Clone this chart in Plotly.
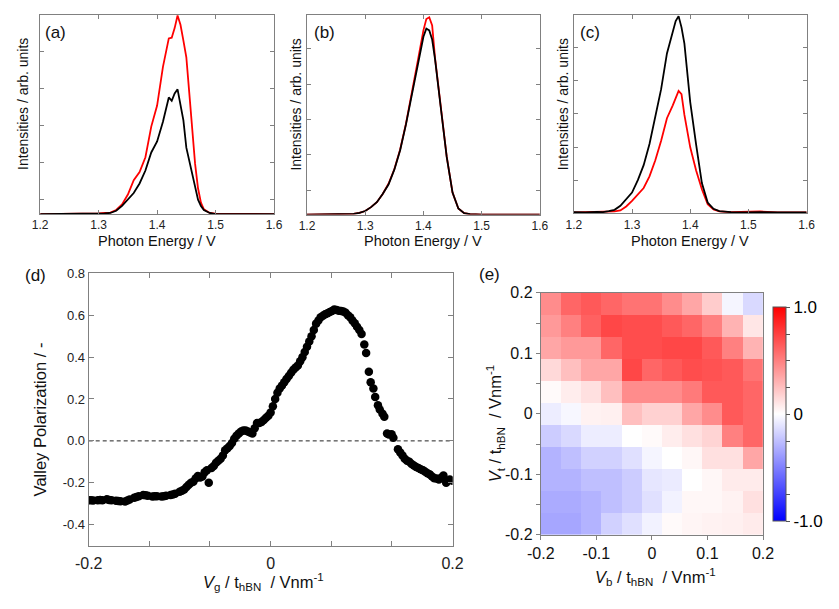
import numpy as np
import plotly.graph_objects as go

W, H = 839, 609

# ---------------- data ----------------
# (a)
E_a = [1.20, 1.25, 1.28, 1.30, 1.31, 1.32, 1.33, 1.34, 1.35, 1.36, 1.37, 1.38, 1.39, 1.40, 1.41, 1.42,
       1.425, 1.43, 1.435, 1.44, 1.445, 1.45, 1.455, 1.46, 1.465, 1.47, 1.475, 1.48, 1.49, 1.50, 1.55, 1.60]
red_a = [0.0, 0.0, 0.01, 0.02, 0.03, 0.04, 0.11, 0.26, 0.53, 0.92, 1.14, 1.54, 2.37, 2.94, 3.99, 4.76,
         4.78, 5.04, 5.38, 5.13, 4.70, 4.25, 3.29, 2.24, 1.36, 0.70, 0.31, 0.13, 0.03, 0.01, 0.0, 0.0]
black_a = [0.0, 0.0, 0.0, 0.01, 0.02, 0.03, 0.09, 0.22, 0.39, 0.57, 0.83, 1.18, 1.67, 1.97, 2.50, 3.16,
           3.07, 3.27, 3.38, 2.98, 2.54, 1.80, 1.45, 1.10, 0.75, 0.39, 0.22, 0.11, 0.03, 0.0, 0.0, 0.0]

# (b)
E_b = [1.20, 1.25, 1.28, 1.29, 1.30, 1.31, 1.32, 1.33, 1.34, 1.35, 1.36, 1.37, 1.38, 1.39, 1.40, 1.405,
       1.41, 1.415, 1.42, 1.43, 1.44, 1.45, 1.46, 1.47, 1.48, 1.50, 1.55, 1.60]
red_b = [0.0, 0.0, 0.02, 0.05, 0.10, 0.21, 0.35, 0.58, 0.87, 1.28, 1.84, 2.57, 3.40, 4.32, 5.21, 5.53,
         5.58, 5.35, 4.42, 3.02, 1.64, 0.62, 0.17, 0.04, 0.01, 0.0, 0.0, 0.0]
black_b = [0.0, 0.0, 0.02, 0.05, 0.10, 0.21, 0.35, 0.58, 0.85, 1.27, 1.82, 2.55, 3.38, 4.29, 5.03, 5.26,
           5.21, 4.95, 4.39, 3.00, 1.63, 0.62, 0.17, 0.04, 0.01, 0.0, 0.0, 0.0]

# (c)
E_c = [1.20, 1.22, 1.24, 1.25, 1.26, 1.27, 1.28, 1.29, 1.30, 1.31, 1.32, 1.33, 1.34, 1.35, 1.36, 1.37,
       1.375, 1.38, 1.385, 1.39, 1.40, 1.41, 1.42, 1.43, 1.44, 1.45, 1.47, 1.50, 1.52, 1.55, 1.58, 1.60]
black_c = [0.03, 0.02, 0.04, 0.03, 0.06, 0.10, 0.22, 0.42, 0.62, 1.00, 1.45, 2.09, 2.87, 3.75, 4.83, 5.52,
           5.81, 5.96, 5.62, 5.13, 3.36, 2.09, 0.91, 0.32, 0.13, 0.06, 0.03, 0.02, 0.03, 0.02, 0.03, 0.02]
red_c = [0.02, 0.03, 0.02, 0.03, 0.03, 0.05, 0.08, 0.20, 0.37, 0.57, 0.76, 1.11, 1.60, 2.19, 2.87, 3.26,
         3.46, 3.70, 3.60, 2.97, 1.99, 1.30, 0.72, 0.27, 0.11, 0.05, 0.03, 0.03, 0.05, 0.02, 0.03, 0.02]

# (d)
Vg = [-0.200, -0.195, -0.190, -0.185, -0.180, -0.175, -0.170, -0.165, -0.160, -0.155, -0.150, -0.145,
      -0.140, -0.135, -0.130, -0.125, -0.120, -0.115, -0.110, -0.105, -0.100, -0.095, -0.090, -0.085,
      -0.080, -0.075, -0.070, -0.068, -0.065, -0.060, -0.055, -0.050, -0.045, -0.040, -0.035, -0.030,
      -0.025, -0.020, -0.015, -0.010, -0.005, 0.000, 0.005, 0.010, 0.015, 0.020, 0.025, 0.030, 0.035,
      0.040, 0.045, 0.050, 0.055, 0.060, 0.065, 0.070, 0.075, 0.080, 0.085, 0.090, 0.095, 0.100, 0.103,
      0.105, 0.108, 0.110, 0.113, 0.115, 0.118, 0.120, 0.123, 0.125, 0.128, 0.130, 0.133, 0.135, 0.140,
      0.145, 0.150, 0.155, 0.160, 0.165, 0.170, 0.175, 0.180, 0.185, 0.190, 0.193, 0.197, 0.200]
VP = [-0.283, -0.285, -0.283, -0.284, -0.279, -0.283, -0.286, -0.288, -0.289, -0.280, -0.272, -0.265,
      -0.259, -0.262, -0.266, -0.264, -0.266, -0.262, -0.258, -0.252, -0.243, -0.232, -0.210, -0.195,
      -0.168, -0.170, -0.140, -0.200, -0.130, -0.105, -0.085, -0.045, -0.025, 0.010, 0.035, 0.050,
      0.045, 0.035, 0.085, 0.090, 0.110, 0.135, 0.200, 0.250, 0.280, 0.310, 0.340, 0.360, 0.400,
      0.450, 0.500, 0.560, 0.590, 0.605, 0.615, 0.628, 0.622, 0.618, 0.600, 0.575, 0.545, 0.510, 0.460,
      0.420, 0.330, 0.280, 0.250, 0.210, 0.170, 0.150, 0.130, 0.115, 0.035, 0.030, 0.032, 0.015, -0.040,
      -0.070, -0.095, -0.110, -0.125, -0.135, -0.148, -0.160, -0.178, -0.185, -0.165, -0.200, -0.185, -0.190]
# additional measured points (between the ones above)
Vg_extra = [-0.1975, -0.1875, -0.1775, -0.1675, -0.1575, -0.1475, -0.1375, -0.1275, -0.1175, -0.1075,
            -0.0975, -0.0925, -0.0875, -0.0825, -0.0775, -0.0725, -0.0625, -0.0575, -0.0525,
            -0.0475, -0.0425, -0.0375, -0.0325, -0.0275, -0.0225, -0.0175, -0.0125, -0.0075, -0.0025,
            0.0025, 0.0075, 0.0125, 0.0175, 0.0225, 0.0275, 0.0325, 0.0375, 0.0425, 0.0475, 0.0525,
            0.0575, 0.0625, 0.0675, 0.0725, 0.0775, 0.0825, 0.0875, 0.0925, 0.0975, 0.1425, 0.1475,
            0.1525, 0.1575, 0.1625, 0.1675, 0.1725, 0.1775, 0.1825, 0.1875]
VP_extra = [-0.284, -0.282, -0.282, -0.287, -0.285, -0.268, -0.26, -0.265, -0.264, -0.256,
            -0.238, -0.22, -0.2, -0.18, -0.175, -0.15, -0.12, -0.095, -0.07,
            -0.035, -0.01, 0.025, 0.045, 0.05, 0.04, 0.06, 0.085, 0.1, 0.12,
            0.165, 0.23, 0.265, 0.295, 0.325, 0.35, 0.38, 0.425, 0.475, 0.53, 0.575,
            0.598, 0.61, 0.62, 0.625, 0.62, 0.612, 0.59, 0.562, 0.53, -0.055, -0.085,
            -0.1, -0.118, -0.13, -0.14, -0.155, -0.17, -0.18, -0.176]

# (e) rows listed from top (Vt = +0.2) to bottom (Vt = -0.2), columns Vb from -0.2 to +0.2
Z_top_down = [
    [0.45, 0.60, 0.65, 0.60, 0.55, 0.55, 0.45, 0.35, 0.20, -0.04, -0.15],
    [0.40, 0.50, 0.62, 0.72, 0.70, 0.70, 0.65, 0.60, 0.50, 0.30, 0.10],
    [0.35, 0.40, 0.40, 0.60, 0.70, 0.70, 0.72, 0.72, 0.65, 0.50, 0.30],
    [0.15, 0.25, 0.35, 0.35, 0.72, 0.60, 0.65, 0.70, 0.68, 0.65, 0.55],
    [0.02, 0.07, 0.12, 0.25, 0.45, 0.45, 0.45, 0.52, 0.65, 0.65, 0.60],
    [-0.07, -0.03, 0.05, 0.06, 0.25, 0.18, 0.18, 0.35, 0.45, 0.65, 0.60],
    [-0.20, -0.15, -0.07, -0.07, 0.00, 0.02, 0.07, 0.12, 0.17, 0.50, 0.60],
    [-0.30, -0.25, -0.18, -0.18, -0.12, -0.04, 0.00, 0.03, 0.12, 0.12, 0.35],
    [-0.30, -0.30, -0.25, -0.25, -0.20, -0.10, -0.08, 0.00, 0.03, 0.08, 0.08],
    [-0.33, -0.33, -0.30, -0.25, -0.20, -0.12, -0.05, 0.03, 0.03, 0.05, 0.12],
    [-0.35, -0.35, -0.30, -0.18, -0.12, -0.05, 0.02, 0.04, 0.05, 0.06, 0.08],
]
Vb_edges = list(np.linspace(-0.2, 0.2, 12))
Vt_edges = list(np.linspace(-0.2, 0.2, 12))

# ---------------- helpers ----------------
def px_x(p):
    return p / W

def px_y(p):
    return 1 - p / H

FONT = "Liberation Sans, Arial, sans-serif"
AX = "#808080"

fig = go.Figure()

spec = [
    ("x", "y", E_a, red_a, black_a),
    ("x2", "y2", E_b, red_b, black_b),
    ("x3", "y3", E_c, red_c, black_c),
]
for xa, ya, E, r, b in spec:
    for yv, c in [(r, "#ff0000"), (b, "#000000")]:
        fig.add_trace(go.Scatter(x=E, y=yv, mode="lines", line=dict(color=c, width=1.8),
                                 xaxis=xa, yaxis=ya, showlegend=False, hoverinfo="skip"))

fig.add_trace(go.Scatter(x=Vg + Vg_extra, y=VP + VP_extra, mode="markers",
                         marker=dict(color="black", size=8.5, line=dict(width=0)),
                         xaxis="x4", yaxis="y4", showlegend=False))

fig.add_trace(go.Heatmap(
    z=Z_top_down[::-1], x=Vb_edges, y=Vt_edges, xaxis="x5", yaxis="y5",
    zmin=-1, zmax=1,
    colorscale=[[0, "#0000ff"], [0.5, "#ffffff"], [1, "#ff0000"]],
    colorbar=dict(
        x=782 / W, xanchor="left", xpad=0, ypad=0,
        y=px_y(418), yanchor="middle",
        thickness=13, thicknessmode="pixels",
        len=220 / H, lenmode="fraction",
        outlinewidth=1, outlinecolor="#555555",
        tickvals=[-1, -0.75, -0.5, -0.25, 0, 0.25, 0.5, 0.75, 1],
        ticktext=["-1.0", "", "", "", "0", "", "", "", "1.0"],
        ticks="outside", ticklen=4, tickcolor="#555555",
        tickfont=dict(family=FONT, size=17, color="black"),
    ),
))

# ---------------- axes ----------------
def spec_axes(n, x0, x1, y0, y1, yrange, yticks):
    common = dict(showline=True, linecolor=AX, linewidth=1, mirror="ticks",
                  ticks="inside", ticklen=4, tickcolor=AX, zeroline=False, showgrid=False)
    xk = "xaxis" if n == 1 else f"xaxis{n}"
    yk = "yaxis" if n == 1 else f"yaxis{n}"
    fig.update_layout(**{
        xk: dict(domain=[px_x(x0), px_x(x1)], range=[1.2, 1.6], anchor=f"y{'' if n == 1 else n}",
                 tickvals=[1.2, 1.3, 1.4, 1.5, 1.6], ticktext=["1.2", "1.3", "1.4", "1.5", "1.6"],
                 tickfont=dict(family=FONT, size=12, color="#222"), **common),
        yk: dict(domain=[px_y(y1), px_y(y0)], range=yrange, anchor=f"x{'' if n == 1 else n}",
                 tickvals=yticks, showticklabels=False, **common),
    })

spec_axes(1, 27, 268, 7, 212, [0, 5.4], [0.4, 1.4, 2.4, 3.4, 4.4])
spec_axes(2, 302, 542, 7, 212.5, [0, 5.65], [0.69, 1.69, 2.69, 3.69, 4.69])
spec_axes(3, 577, 817, 7, 211, [0, 6.0], [1, 2, 3, 4, 5])

fig.update_layout(
    xaxis4=dict(domain=[px_x(77), px_x(452)], range=[-0.2, 0.2], anchor="y4",
                tickvals=[-0.2, -0.4 / 3, -0.2 / 3, 0, 0.2 / 3, 0.4 / 3, 0.2],
                ticktext=["-0.2", "", "", "0", "", "", "0.2"],
                showline=True, linecolor=AX, linewidth=1, mirror="ticks", ticks="inside",
                ticklen=5, tickcolor=AX, zeroline=False, showgrid=False,
                tickfont=dict(family=FONT, size=16, color="#222"), ticklabelstandoff=3),
    yaxis4=dict(domain=[px_y(553), px_y(273)], range=[-0.5, 0.8], anchor="x4",
                tickvals=[-0.4, -0.2, 0, 0.2, 0.4, 0.6, 0.8],
                ticktext=["-0.4", "-0.2", "0.0", "0.2", "0.4", "0.6", "0.8"],
                showline=True, linecolor=AX, linewidth=1, mirror="ticks", ticks="inside",
                ticklen=5, tickcolor=AX, zeroline=False, showgrid=False,
                tickfont=dict(family=FONT, size=13, color="#222")),
    xaxis5=dict(domain=[px_x(543), px_x(772)], range=[-0.2, 0.2], anchor="y5",
                tickvals=[-0.2, -0.1, 0, 0.1, 0.2], ticktext=["-0.2", "-0.1", "0", "0.1", "0.2"],
                showline=True, linecolor=AX, linewidth=1, mirror=True, ticks="outside",
                ticklen=4, tickcolor=AX, zeroline=False, showgrid=False,
                tickfont=dict(family=FONT, size=16, color="#111")),
    yaxis5=dict(domain=[px_y(542), px_y(293)], range=[-0.2, 0.2], anchor="x5",
                tickvals=[-0.2, -0.1, 0, 0.1, 0.2], ticktext=["-0.2", "-0.1", "0", "0.1", "0.2"],
                minor=dict(tickvals=[-0.15, -0.05, 0.05, 0.15], ticks="outside", ticklen=4, tickcolor=AX),
                showline=True, linecolor=AX, linewidth=1, mirror=True, ticks="outside",
                ticklen=4, tickcolor=AX, zeroline=False, showgrid=False,
                tickfont=dict(family=FONT, size=16, color="#111")),
)

# dashed zero line in (d)
fig.add_shape(type="line", xref="x4 domain", yref="y4", x0=0, x1=1, y0=0, y1=0,
              line=dict(color="#222", width=1, dash="4px,3px"), layer="below")

# ---------------- annotations ----------------
def ann(text, x, y, size, angle=0, xanchor="center"):
    fig.add_annotation(text=text, x=px_x(x), y=px_y(y), xref="paper", yref="paper",
                       showarrow=False, textangle=angle, xanchor=xanchor, yanchor="middle",
                       font=dict(family=FONT, size=size, color="#111"))

ann("(a)", 43, 25, 17)
ann("(b)", 320, 25, 17)
ann("(c)", 594, 25, 17)
ann("(d)", 22, 275, 17)
ann("(e)", 490, 274, 17)

for xc in [147.5, 422, 697]:
    ann("Photon Energy / V", xc, 240, 14.5)
for xc in [10, 291, 566]:
    ann("Intensities / arb. units", xc, 99, 14, angle=-90)

ann("Valley Polarization / -", 27, 423, 16.5, angle=-90)
ann("<i>V</i><sub>g</sub> / t<sub>hBN</sub>  / Vnm<sup>-1</sup>", 257, 590, 16.5)
ann("<i>V</i><sub>t</sub> / t<sub>hBN</sub>  / Vnm<sup>-1</sup>", 496, 427, 16.5, angle=-90)
ann("<i>V</i><sub>b</sub> / t<sub>hBN</sub>  / Vnm<sup>-1</sup>", 661, 585, 16.5)

fig.update_layout(width=W, height=H, margin=dict(l=0, r=0, t=0, b=0),
                  paper_bgcolor="white", plot_bgcolor="white",
                  font=dict(family=FONT, color="#111"), showlegend=False)

fig.write_html("out.html")
